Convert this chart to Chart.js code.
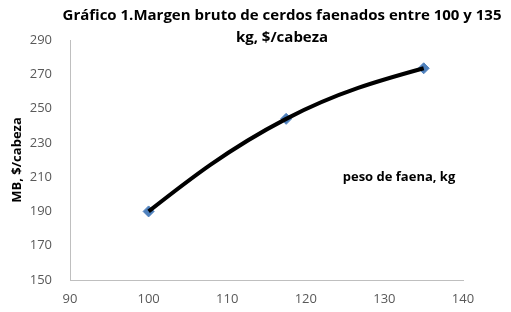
<!DOCTYPE html>
<html lang="es">
<head>
    <meta charset="UTF-8">
    <title>Margen bruto de cerdos faenados</title>
    <script src="https://cdn.jsdelivr.net/npm/chart.js@4.4.1/dist/chart.umd.min.js"></script>
    <style>
        body {
            margin: 0;
            background: #ffffff;
        }
        #chartBox {
            width: 511px;
            height: 312px;
        }
    </style>
</head>
<body>
    <div id="chartBox">
        <canvas id="mbChart"></canvas>
    </div>

    <script>
        // datos
        const pesoFaena = [100, 117.5, 135];
        const margenBruto = [190, 244, 273.5];
        const tituloLineas = ['Gráfico 1.Margen bruto de cerdos faenados entre 100 y 135', 'kg, $/cabeza'];
        const etiquetaEjeY = 'MB, $/cabeza';
        const etiquetaEjeX = 'peso de faena, kg';

        const puntos = pesoFaena.map((x, i) => ({ x: x, y: margenBruto[i] }));

        // suavizado tipo Excel: los extremos apuntan hacia el punto de control vecino
        const suavizadoPlugin = {
            id: 'suavizado',
            beforeDatasetDraw(chart, args) {
                const meta = args.meta;
                const line = meta.dataset;
                if (!line || !chart.data.datasets[args.index].showLine) return;
                line.updateControlPoints(chart.chartArea);
                const pts = line.points;
                if (pts.length < 3) return;
                const a = pts[0], b = pts[1];
                a.cp2x = a.x + (b.cp1x - a.x) * 0.5;
                a.cp2y = a.y + (b.cp1y - a.y) * 0.5;
                const z = pts[pts.length - 1], y = pts[pts.length - 2];
                z.cp1x = z.x + (y.cp2x - z.x) * 0.5;
                z.cp1y = z.y + (y.cp2y - z.y) * 0.5;
                line._path = undefined;
            }
        };

        // titulo y texto del eje x dibujados a mano, como en el original de Excel
        const textosPlugin = {
            id: 'textos',
            afterDraw(chart) {
                const ctx = chart.ctx;
                ctx.save();
                ctx.fillStyle = '#000000';
                ctx.textAlign = 'center';
                ctx.textBaseline = 'middle';
                ctx.font = 'bold 15px "Open Sans"';
                ctx.fillText(tituloLineas[0], 282, 16);
                ctx.fillText(tituloLineas[1], 282, 38);

                ctx.font = 'bold 13px "Open Sans"';
                ctx.fillText(etiquetaEjeX, 399, 177);
                ctx.restore();
            }
        };

        const ctx = document.getElementById('mbChart').getContext('2d');
        new Chart(ctx, {
            type: 'scatter',
            data: {
                datasets: [
                    {
                        label: 'linea',
                        data: puntos,
                        showLine: true,
                        borderColor: '#000000',
                        borderWidth: 4,
                        tension: 0.4,
                        pointRadius: 0,
                        order: 1
                    },
                    {
                        label: 'puntos',
                        data: puntos,
                        showLine: false,
                        pointStyle: 'rectRot',
                        pointRadius: 5.5,
                        backgroundColor: '#4f81bd',
                        borderColor: '#4f81bd',
                        order: 2
                    }
                ]
            },
            options: {
                responsive: true,
                maintainAspectRatio: false,
                animation: false,
                layout: {
                    padding: { top: 40, right: 48, left: 0, bottom: 0 }
                },
                plugins: {
                    legend: { display: false },
                    tooltip: { enabled: false }
                },
                scales: {
                    x: {
                        type: 'linear',
                        min: 90,
                        max: 140,
                        afterFit: (scale) => { scale.height = 32; },
                        ticks: {
                            stepSize: 10,
                            padding: 11,
                            color: '#595959',
                            font: { family: 'Open Sans', size: 13 }
                        },
                        grid: { display: false, drawTicks: false },
                        border: { display: true, color: '#bfbfbf', width: 1 }
                    },
                    y: {
                        min: 150,
                        max: 290,
                        afterFit: (scale) => { scale.width = 70; },
                        ticks: {
                            stepSize: 20,
                            padding: 18,
                            color: '#595959',
                            font: { family: 'Open Sans', size: 13 }
                        },
                        grid: { display: false, drawTicks: false },
                        border: { display: true, color: '#bfbfbf', width: 1 },
                        title: {
                            display: true,
                            text: etiquetaEjeY,
                            color: '#000000',
                            padding: { top: 9, bottom: 0 },
                            font: { family: 'Open Sans', size: 13, weight: 'bold' }
                        }
                    }
                }
            },
            plugins: [suavizadoPlugin, textosPlugin]
        });
    </script>
</body>
</html>
